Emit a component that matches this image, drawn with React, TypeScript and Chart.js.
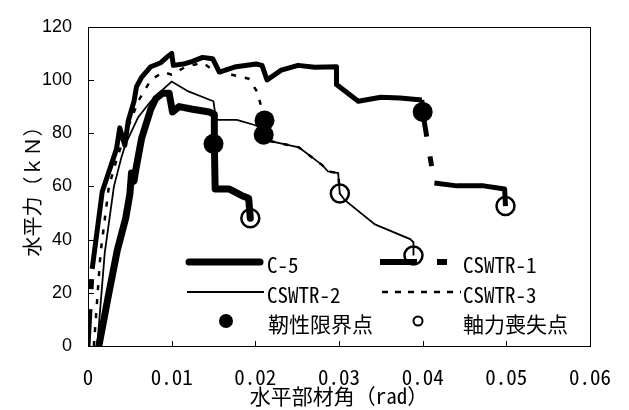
import React, { useEffect, useRef } from 'react';
import { Chart, registerables } from 'chart.js';

Chart.register(...registerables);

// ---- Axis ticks ----
const xTickLabels = ['0', '0.01', '0.02', '0.03', '0.04', '0.05', '0.06'];
const yTickValues = [0, 20, 40, 60, 80, 100, 120];

// ---- Series: C-5 ----
const c5X = [0.0013, 0.0025, 0.0035, 0.0045, 0.005, 0.0052, 0.0055, 0.0057, 0.0064, 0.0075, 0.0081, 0.0089, 0.0097, 0.0101, 0.0109, 0.0125, 0.0145, 0.0151, 0.0151, 0.0152, 0.0169, 0.0184, 0.0192, 0.0194];
const c5Y = [0, 20, 36, 48, 57, 65, 62, 66, 78, 89, 93, 95, 95, 88, 90, 89, 88, 87, 76, 59, 59, 56.5, 55.5, 48];

// ---- Series: CSWTR-1 ----
const s1X = [0, 0.0005, 0.0017, 0.0034, 0.0038, 0.0044, 0.0048, 0.0055, 0.0058, 0.0064, 0.0075, 0.0087, 0.0094, 0.01, 0.0102, 0.0114, 0.0125, 0.0137, 0.0149, 0.0157, 0.0177, 0.0201, 0.0208, 0.0214, 0.0231, 0.0251, 0.0271, 0.0297, 0.0297, 0.0323, 0.035, 0.0373, 0.0399, 0.04, 0.0414, 0.0441, 0.0473, 0.0498, 0.0499];
const s1Y = [0, 29, 58, 74, 82, 75.4, 84.5, 92, 97.5, 101, 105, 106.5, 108.5, 110, 105.5, 106, 107, 108.5, 108, 103, 105, 106, 105.5, 100, 103.7, 105.5, 104.8, 105, 98.3, 92, 93.5, 93.2, 92.5, 88, 61.3, 60.2, 60.2, 59, 52.6];
const s1DashedSegments = [0, 32, 33];

// ---- Series: CSWTR-2 ----
const s2X = [0.0011, 0.002, 0.0031, 0.004, 0.0045, 0.006, 0.0075, 0.0088, 0.01, 0.012, 0.015, 0.0153, 0.0178, 0.02, 0.0212, 0.021, 0.0218, 0.0252, 0.028, 0.0287, 0.0299, 0.0301, 0.0307, 0.0343, 0.0385, 0.0389, 0.0389];
const s2Y = [0, 35, 60, 71, 76, 86, 92, 96, 99.4, 95.7, 92, 85, 85, 83, 81, 79.4, 77, 74.7, 68, 65.6, 65, 57.3, 54.8, 45.7, 40.2, 39, 34];

// ---- Series: CSWTR-3 ----
const s3X = [0.0007, 0.0015, 0.0025, 0.0035, 0.0045, 0.006, 0.0075, 0.009, 0.01, 0.0117, 0.0137, 0.0153, 0.0172, 0.0192, 0.0202, 0.0207, 0.0211, 0.0218, 0.0252, 0.028, 0.0287, 0.0299, 0.0301];
const s3Y = [0, 35, 60, 71, 80, 92, 100, 103, 102, 105, 106.5, 103, 102, 100.5, 95.7, 90, 84.8, 77, 74.7, 68, 65.6, 65, 57.3];

// ---- Markers ----
const ductX = [0.015, 0.04, 0.021, 0.0211];
const ductY = [76, 88, 79.4, 84.8];
const axialX = [0.0194, 0.0499, 0.0389, 0.0301];
const axialY = [48, 52.6, 34, 57.3];

const seriesLabels = ['C-5', 'CSWTR-1', 'CSWTR-2', 'CSWTR-3'];
const markerLabels = ['靭性限界点', '軸力喪失点'];
const xTitle = '水平部材角（rad）';
const yTitle = '水平力（ｋＮ）';

const MONO = '"Noto Sans Mono CJK JP", "Liberation Mono", "Noto Sans CJK JP", monospace';
const SANS = '"Liberation Sans", Arial, sans-serif';

const toPts = (xs: number[], ys: number[]) => xs.map((x, i) => ({ x, y: ys[i] }));

const framePlugin = {
  id: 'frameTicks',
  afterDraw(chart: any) {
    const { ctx, chartArea } = chart;
    const { left, right, top, bottom } = chartArea;
    ctx.save();
    ctx.strokeStyle = '#000';
    ctx.lineWidth = 1;
    ctx.strokeRect(Math.round(left) + 0.5, Math.round(top) + 0.5, Math.round(right - left), Math.round(bottom - top));
    ctx.beginPath();
    const xs = chart.scales.x;
    for (let i = 0; i < xTickLabels.length; i++) {
      const px = Math.round(xs.getPixelForValue(i * 0.01)) + 0.5;
      ctx.moveTo(px, bottom);
      ctx.lineTo(px, bottom - 5);
    }
    const ys = chart.scales.y;
    for (const v of yTickValues) {
      const py = Math.round(ys.getPixelForValue(v)) + 0.5;
      ctx.moveTo(left, py);
      ctx.lineTo(left + 6, py);
    }
    ctx.stroke();
    ctx.restore();
  },
};

const legendPlugin = {
  id: 'customLegend',
  afterDraw(chart: any) {
    const ctx = chart.ctx;
    ctx.save();
    ctx.strokeStyle = '#000';
    ctx.fillStyle = '#000';
    ctx.font = `21px ${MONO}`;
    ctx.textBaseline = 'middle';
    ctx.textAlign = 'left';
    const r1 = 262, r2 = 292, r3 = 321;
    // C-5
    ctx.lineWidth = 7;
    ctx.lineCap = 'round';
    ctx.setLineDash([]);
    ctx.beginPath(); ctx.moveTo(189, r1); ctx.lineTo(260, r1); ctx.stroke();
    ctx.fillText(seriesLabels[0], 267, r1 + 3);
    // CSWTR-2
    ctx.lineWidth = 2;
    ctx.lineCap = 'butt';
    ctx.beginPath(); ctx.moveTo(187, r2); ctx.lineTo(264, r2); ctx.stroke();
    ctx.fillText(seriesLabels[2], 267, r2 + 3);
    // ductility
    ctx.beginPath(); ctx.arc(226, r3, 7, 0, Math.PI * 2); ctx.fill();
    ctx.fillText(markerLabels[0], 268, r3 + 3);
    // CSWTR-1
    ctx.lineWidth = 6;
    ctx.setLineDash([37, 20, 10, 20]);
    ctx.beginPath(); ctx.moveTo(380, r1); ctx.lineTo(460, r1); ctx.stroke();
    ctx.setLineDash([]);
    ctx.fillText(seriesLabels[1], 463, r1 + 3);
    // CSWTR-3
    ctx.lineWidth = 2.5;
    ctx.setLineDash([6, 7]);
    ctx.beginPath(); ctx.moveTo(382, r2); ctx.lineTo(461, r2); ctx.stroke();
    ctx.setLineDash([]);
    ctx.fillText(seriesLabels[3], 463, r2 + 3);
    // axial
    ctx.lineWidth = 2;
    ctx.beginPath(); ctx.arc(418, r3, 4.5, 0, Math.PI * 2); ctx.stroke();
    ctx.fillText(markerLabels[1], 463, r3 + 3);
    ctx.restore();
  },
};

export default function App() {
  const ref = useRef<HTMLCanvasElement>(null);
  useEffect(() => {
    if (!ref.current) return;
    const chart = new Chart(ref.current, {
      type: 'line',
      data: {
        datasets: [
          {
            label: markerLabels[0], data: toPts(ductX, ductY), showLine: false,
            pointRadius: 10, pointBackgroundColor: '#000', pointBorderColor: '#000', pointBorderWidth: 0, order: 0,
          },
          {
            label: markerLabels[1], data: toPts(axialX, axialY), showLine: false,
            pointRadius: 9, pointBackgroundColor: 'rgba(0,0,0,0)', pointBorderColor: '#000', pointBorderWidth: 2.5, order: 0,
          },
          {
            label: seriesLabels[0], data: toPts(c5X, c5Y), borderColor: '#000', borderWidth: 7,
            pointRadius: 0, borderJoinStyle: 'round', borderCapStyle: 'round', order: 1,
          },
          {
            label: seriesLabels[1], data: toPts(s1X, s1Y), borderColor: '#000', borderWidth: 5,
            pointRadius: 0, borderJoinStyle: 'round', borderCapStyle: 'butt', order: 2,
            segment: { borderDash: (c: any) => (s1DashedSegments.includes(c.p0DataIndex) ? [37, 20, 10, 20] : []) },
          },
          {
            label: seriesLabels[2], data: toPts(s2X, s2Y), borderColor: '#000', borderWidth: 1.8,
            pointRadius: 0, order: 3,
          },
          {
            label: seriesLabels[3], data: toPts(s3X, s3Y), borderColor: '#000', borderWidth: 2.5,
            borderDash: [5, 9], pointRadius: 0, order: 4,
          },
        ] as any,
      },
      options: {
        responsive: false,
        animation: false,
        devicePixelRatio: 1,
        layout: { padding: { left: 0, top: 15, right: 34, bottom: 0 } },
        plugins: { legend: { display: false }, tooltip: { enabled: false } },
        scales: {
          x: {
            type: 'linear', min: 0, max: 0.06,
            afterFit: (s: any) => { s.height = 64; },
            grid: { display: false, drawTicks: false },
            border: { display: false },
            ticks: {
              stepSize: 0.01, autoSkip: false, maxRotation: 0,
              callback: (_v: any, i: number) => xTickLabels[i] ?? '',
              font: { family: MONO, size: 21 }, color: '#000', padding: 18,
            },
            title: {
              display: true, text: xTitle, color: '#000',
              font: { family: MONO, size: 21 }, padding: { top: 0, bottom: 1 },
            },
          },
          y: {
            min: 0, max: 120,
            afterFit: (s: any) => { s.width = 88; },
            grid: { display: false, drawTicks: false },
            border: { display: false },
            ticks: { stepSize: 20, font: { family: SANS, size: 18 }, color: '#000', padding: 16 },
            title: {
              display: true, text: yTitle, color: '#000',
              font: { family: MONO, size: 20 }, padding: { top: 20, bottom: 0 },
            },
          },
        },
      } as any,
      plugins: [framePlugin, legendPlugin],
    });
    return () => chart.destroy();
  }, []);
  return (
    <div style={{ position: 'fixed', left: 0, top: 0, width: 629, height: 410, background: '#fff' }}>
      <canvas ref={ref} width={629} height={410} style={{ width: 629, height: 410, display: 'block' }} />
    </div>
  );
}
